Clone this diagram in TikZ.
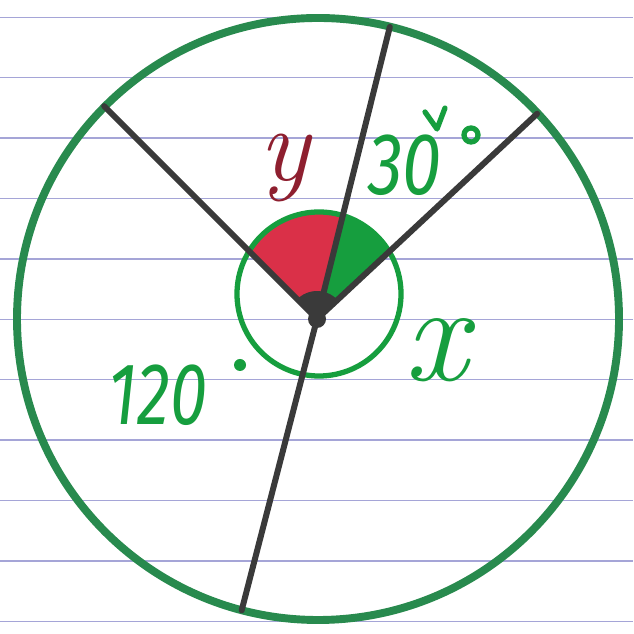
\documentclass[tikz,border=0pt]{standalone}
\usepackage{fontspec}
\newfontfamily\handfont{Fira Sans}
\definecolor{ringgreen}{RGB}{40,138,78}
\definecolor{inkgreen}{RGB}{22,158,62}
\definecolor{inkred}{RGB}{218,48,72}
\definecolor{inkblack}{RGB}{58,58,58}
\definecolor{ruled}{RGB}{165,165,215}
\tikzset{
  spoke/.style={inkblack,line width=3.4pt,line cap=round},
  digits/.style={text=inkgreen,font=\handfont\itshape\fontsize{50}{50}\selectfont},
  letter/.style={anchor=base,font=\rmfamily\itshape\fontsize{#1}{#1}\selectfont}
}

\begin{document}
\begin{tikzpicture}[x=0.02cm,y=0.02cm]
  \useasboundingbox (0,0) rectangle (633,634);
  \fill[white] (0,0) rectangle (633,634);
  % ruled paper
  \foreach \k in {0,...,10}{
    \draw[ruled,line width=0.7pt] (0,616.7-60.4*\k) -- (633,616.7-60.4*\k);
  }
  \coordinate (O) at (317,315);
  \coordinate (S) at (319,340);
  % shaded angles
  \begin{scope}
    \clip (S) circle (82);
    \fill[inkred] (O) -- +(76:130) arc (76:135:130) -- cycle;
    \fill[inkgreen] (O) -- +(43:130) arc (43:76:130) -- cycle;
  \end{scope}
  \draw[inkgreen,line width=3pt] (S) circle (82);
  \draw[ringgreen,line width=4.5pt] (318,315) circle (301);
  \foreach \a in {43,76,135,255.5}{
    \draw[spoke] (O) -- +(\a:301);
  }
  \fill[inkblack] (O) -- +(40:28) arc (40:138:28) -- cycle;
  \fill[inkblack] (O) circle (9);
  % labels
  \node[letter=60,text=inkred!65!black] (y) at (285,453) {y};
  \node[letter=80,text=inkgreen] (x) at (436,253) {x};
  \node[digits] (thirty) at (405,469) {\scalebox{0.8}[1]{30}};
  \draw[inkgreen,line width=3pt] (471,499) circle (7);
  \draw[inkgreen,line width=3pt,line cap=round,line join=round] (425,522) -- (437,505) -- (445,526);
  \node[digits] (onetwenty) at (158,239) {\scalebox{0.76}[1]{120}};
  \fill[inkgreen] (240,269) circle (6);
\end{tikzpicture}
\end{document}
